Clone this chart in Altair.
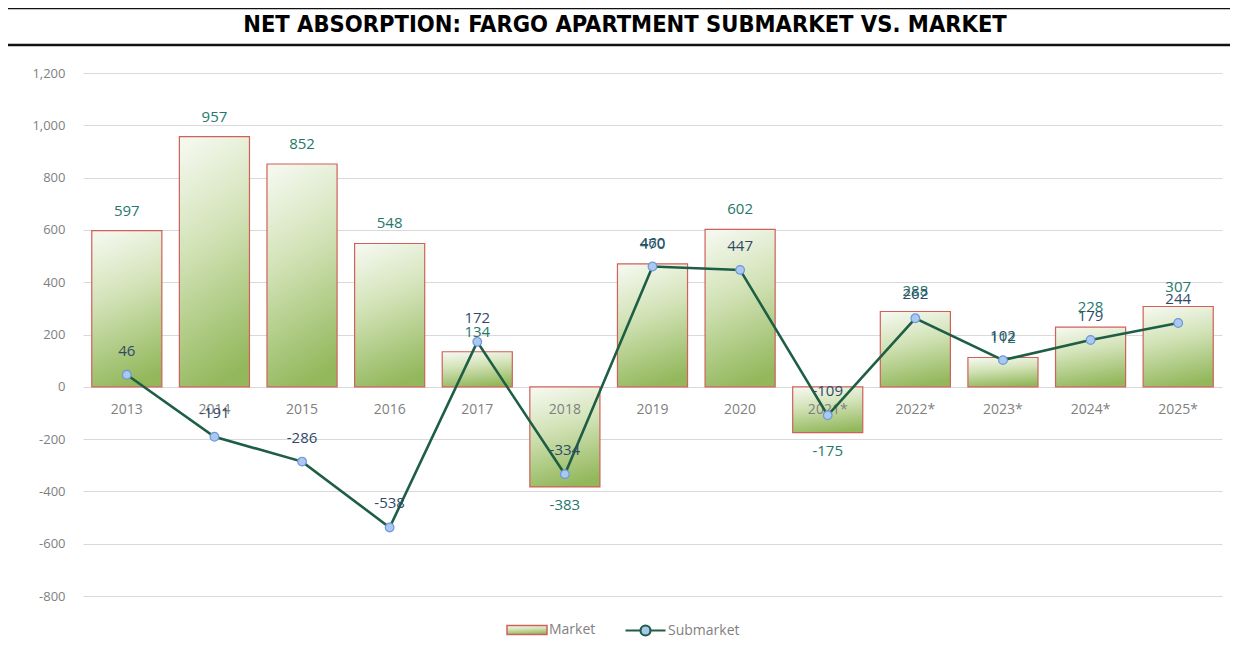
import altair as alt
import pandas as pd

years = ["2013", "2014", "2015", "2016", "2017", "2018", "2019", "2020",
         "2021*", "2022*", "2023*", "2024*", "2025*"]
market = [597, 957, 852, 548, 134, -383, 470, 602, -175, 288, 112, 228, 307]
submarket = [46, -191, -286, -538, 172, -334, 460, 447, -109, 262, 102, 179, 244]

df = pd.DataFrame({"year": years, "Market": market, "Submarket": submarket,
                   "s1": ["Market"] * len(years), "s2": ["Submarket"] * len(years)})

W, H = 1139, 523
FONT = "Open Sans"

x = alt.X("year:N", sort=years, axis=None,
          scale=alt.Scale(paddingInner=0.2, paddingOuter=0.1))
yscale = alt.Scale(domain=[-800, 1200], nice=False)

base = alt.Chart(df).transform_calculate(
    mlab="toString(datum.Market)", slab="toString(datum.Submarket)")

grad = alt.Gradient(
    gradient="linear", x1=0.3, y1=0, x2=0.5, y2=1,
    stops=[alt.GradientStop(offset=0, color="#f3f7ec"),
           alt.GradientStop(offset=0.4, color="#d3e3b8"),
           alt.GradientStop(offset=1, color="#93b85c")])

bars = base.mark_bar(color=grad, strokeWidth=1.2).encode(
    x=x,
    y=alt.Y("Market:Q", scale=yscale,
            axis=alt.Axis(values=list(range(-800, 1201, 200)), format=",d",
                          labelExpr="replace(datum.label, '\u2212', '-')",
                          title=None, domain=False, ticks=False,
                          labelPadding=18, labelFont=FONT, labelFontSize=13,
                          labelColor="#7f7f7f", gridColor="#d9d9d9")),
    stroke=alt.Stroke("s1:N", scale=alt.Scale(domain=["Market"], range=["#d0605a"]),
                      legend=alt.Legend(title=None, orient="none", legendX=433, legendY=546,
                                        symbolType="M-2,-0.45H2V0.45H-2Z", symbolSize=400,
                                        symbolFillColor="#b9d393", symbolStrokeWidth=1.5,
                                        labelFont=FONT, labelFontSize=14, labelColor="#7f7f7f",
                                        labelOffset=11)),
)

xlabels = base.mark_text(font=FONT, fontSize=14, color="#7f7f7f", dy=23).encode(
    x=x, y=alt.datum(0, scale=yscale), text="year:N")

pos_lab = base.transform_filter("datum.Market >= 0").mark_text(
    font=FONT, fontSize=15, color="#25786a", baseline="bottom", dy=-12).encode(
    x=x, y=alt.Y("Market:Q", scale=yscale), text="mlab:N")
neg_lab = base.transform_filter("datum.Market < 0").mark_text(
    font=FONT, fontSize=15, color="#25786a", baseline="top", dy=11).encode(
    x=x, y=alt.Y("Market:Q", scale=yscale), text="mlab:N")

line = base.mark_line(strokeWidth=2.6).encode(
    x=x, y=alt.Y("Submarket:Q", scale=yscale),
    stroke=alt.Stroke("s2:N", scale=alt.Scale(domain=["Submarket"], range=["#1d5e45"]),
                      legend=alt.Legend(title=None, orient="none", legendX=551, legendY=546,
                                        symbolType="M-2,0H-0.5M0.5,0H2M-0.5,0A0.5,0.5 0 1,1 0.5,0A0.5,0.5 0 1,1 -0.5,0Z",
                                        symbolSize=400, symbolFillColor="#a9c6ee",
                                        symbolStrokeWidth=2.2,
                                        labelFont=FONT, labelFontSize=14, labelColor="#7f7f7f",
                                        labelOffset=11)),
)
pts = base.mark_point(filled=True, size=75, fill="#abc9f0", stroke="#6d98d8",
                      strokeWidth=1.2, opacity=1).encode(
    x=x, y=alt.Y("Submarket:Q", scale=yscale))
sub_lab = base.mark_text(font=FONT, fontSize=15, color="#2f4a68", baseline="bottom", dy=-16).encode(
    x=x, y=alt.Y("Submarket:Q", scale=yscale), text="slab:N")

title_txt = alt.Chart(pd.DataFrame({"t": ["NET ABSORPTION: FARGO APARTMENT SUBMARKET VS. MARKET"]})).mark_text(
    font="DejaVu Sans Condensed", fontWeight="bold", fontSize=23.5, color="#000000",
    align="center", baseline="middle").encode(
    x=alt.value(542), y=alt.value(-48), text="t:N")

rule_top = alt.Chart(pd.DataFrame({"a": [0]})).mark_rule(color="#111111", strokeWidth=2.5).encode(
    x=alt.value(-80), x2=alt.value(1160), y=alt.value(-65))
rule_bot = alt.Chart(pd.DataFrame({"a": [0]})).mark_rule(color="#111111", strokeWidth=2.5).encode(
    x=alt.value(-80), x2=alt.value(1160), y=alt.value(-28))

chart = alt.layer(
    bars, xlabels, pos_lab, neg_lab, line, pts, sub_lab, title_txt, rule_top, rule_bot
).resolve_scale(stroke="independent").resolve_legend(stroke="independent").properties(
    width=W, height=H,
    autosize=alt.AutoSizeParams(type="none"),
    padding={"left": 75, "top": 65, "right": 8, "bottom": 42},
).configure_view(stroke=None)

chart.save("out.html", embed_options={"renderer": "svg", "actions": False})
